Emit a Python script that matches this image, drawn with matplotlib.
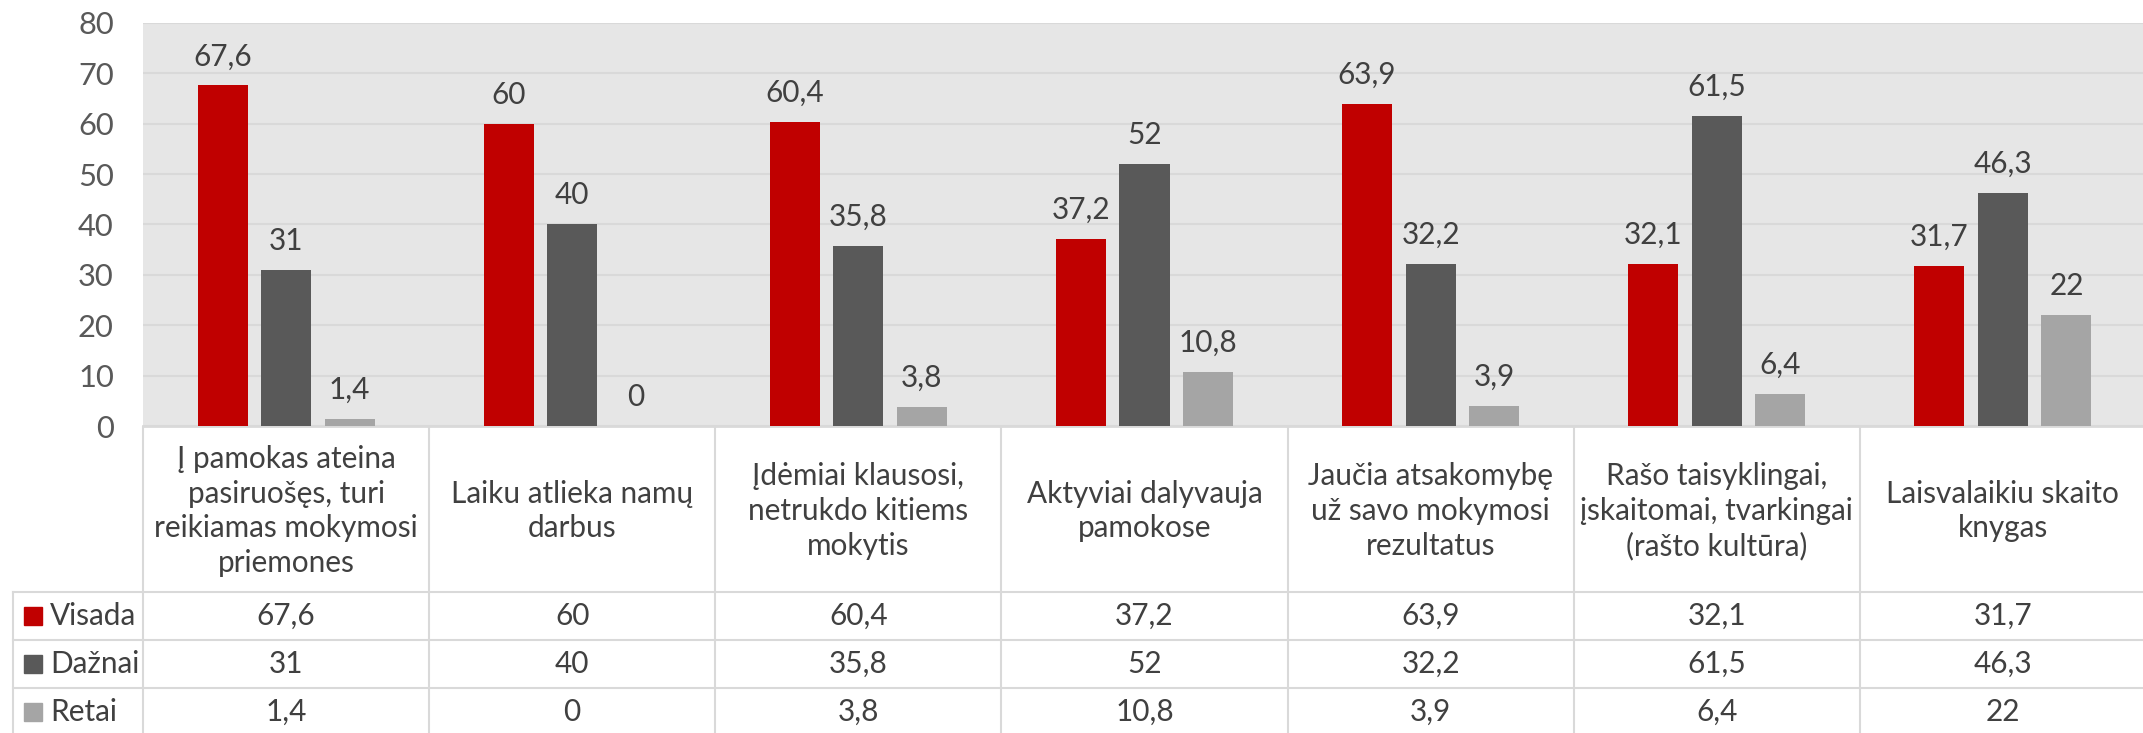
import matplotlib.pyplot as plt
import numpy as np
from matplotlib.patches import Rectangle

plt.rcParams['font.family'] = ['Lato', 'DejaVu Sans']

# data
categories = [
    "Į pamokas ateina\npasiruošęs, turi\nreikiamas mokymosi\npriemones",
    "Laiku atlieka namų\ndarbus",
    "Įdėmiai klausosi,\nnetrukdo kitiems\nmokytis",
    "Aktyviai dalyvauja\npamokose",
    "Jaučia atsakomybę\nuž savo mokymosi\nrezultatus",
    "Rašo taisyklingai,\nįskaitomai, tvarkingai\n(rašto kultūra)",
    "Laisvalaikiu skaito\nknygas",
]
series_names = ["Visada", "Dažnai", "Retai"]
visada = [67.6, 60, 60.4, 37.2, 63.9, 32.1, 31.7]
daznai = [31, 40, 35.8, 52, 32.2, 61.5, 46.3]
retai = [1.4, 0, 3.8, 10.8, 3.9, 6.4, 22]
yticks = [0, 10, 20, 30, 40, 50, 60, 70, 80]

colors = ["#C00000", "#595959", "#A5A5A5"]
grid_c = "#D9D9D9"
txt_c = "#404040"

W, H = 2143, 733
plot_left, plot_right = 143, 2146
plot_top, plot_bot = 23, 426
n = len(categories)
colw = (plot_right - plot_left) / n


def fmt(v):
    return f"{v:g}".replace(".", ",")


fig = plt.figure(figsize=(W / 100, H / 100), dpi=100)

# pick a font size so that the widest label line fills the cell like the original
r = fig.canvas.get_renderer()
probe = fig.text(0, 0, "reikiamas mokymosi", fontsize=18)
fs = 18 * 263 / probe.get_window_extent(r).width
probe.remove()

ax = fig.add_axes([plot_left / W, (H - plot_bot) / H,
                   (plot_right - plot_left) / W, (plot_bot - plot_top) / H])
ax.set_facecolor("#E6E6E6")

x = np.arange(n) + 0.5
bw = 0.175
off = 0.222
for k, vals in enumerate([visada, daznai, retai]):
    pos = x + (k - 1) * off
    ax.bar(pos, vals, width=bw, color=colors[k], zorder=3)
    for px, v in zip(pos, vals):
        ax.annotate(fmt(v), (px, v), xytext=(0, 21), textcoords="offset points",
                    ha="center", va="center", fontsize=fs, color=txt_c)

ax.set_xlim(0, n)
ax.set_ylim(0, 80)
ax.set_yticks(yticks)
ax.set_yticklabels([str(t) for t in yticks])
ax.set_xticks([])
ax.tick_params(axis="y", length=0, pad=21, labelsize=fs * 1.04, labelcolor="#595959")
ax.grid(axis="y", color=grid_c, linewidth=1.5, zorder=0)
for s in ["left", "right", "top"]:
    ax.spines[s].set_visible(False)
ax.spines["bottom"].set_color(grid_c)
ax.spines["bottom"].set_linewidth(2)

# data table below the chart, in pixel coordinates
tab_h = H - plot_bot
ta = fig.add_axes([0, 0, 1, tab_h / H])
ta.set_xlim(0, W)
ta.set_ylim(tab_h, 0)
ta.axis("off")

cat_row = 166
row_h = 48
leg_left = 13
lw = 1.5

for i in range(n + 1):
    xx = plot_left + i * colw
    ta.plot([xx, xx], [0, tab_h], color=grid_c, lw=lw)
ta.plot([leg_left, leg_left], [cat_row, tab_h], color=grid_c, lw=lw)
for rr in range(3):
    yy = cat_row + rr * row_h
    ta.plot([leg_left, W], [yy, yy], color=grid_c, lw=lw)

for i, c in enumerate(categories):
    cx = plot_left + (i + 0.5) * colw
    ta.text(cx, cat_row / 2 + 2, c, ha="center", va="center", fontsize=fs,
            color=txt_c, linespacing=1.3)

for rr, (name, vals) in enumerate(zip(series_names, [visada, daznai, retai])):
    cy = cat_row + (rr + 0.5) * row_h
    ta.add_patch(Rectangle((24, cy - 9), 18, 18, color=colors[rr]))
    ta.text(50, cy, name, ha="left", va="center", fontsize=fs, color=txt_c)
    for i, v in enumerate(vals):
        cx = plot_left + (i + 0.5) * colw
        ta.text(cx, cy, fmt(v), ha="center", va="center", fontsize=fs, color=txt_c)

fig.savefig("out.png", dpi=100)
